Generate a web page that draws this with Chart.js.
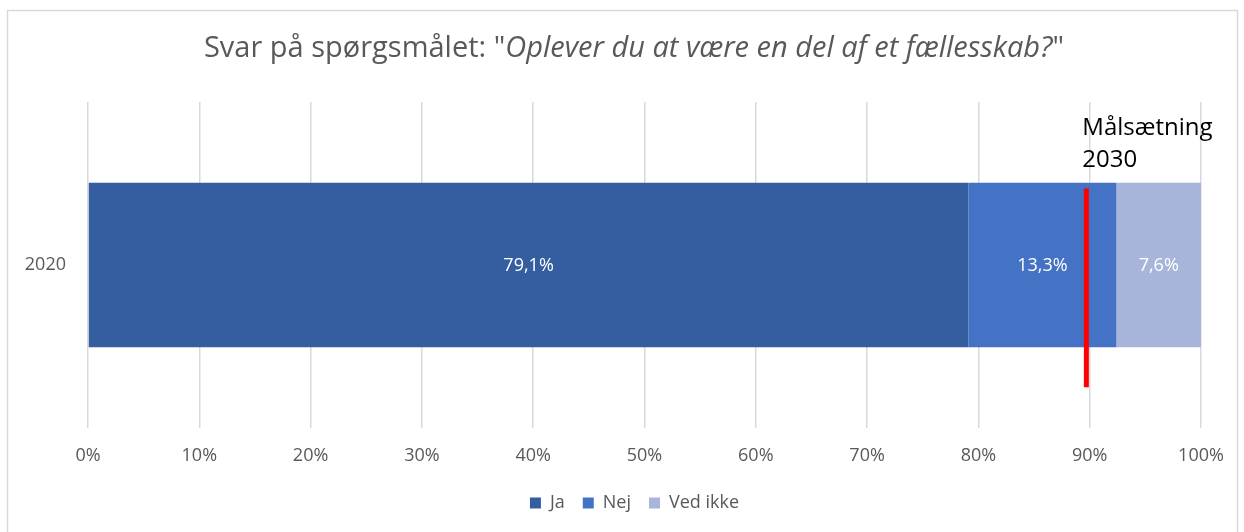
<!DOCTYPE html>
<html>
<head>
<meta charset="utf-8">
<script src="https://cdn.jsdelivr.net/npm/chart.js@4"></script>
<style>
  html, body { margin: 0; padding: 0; background: #fff; }
  #wrap { width: 1244px; height: 532px; }
</style>
</head>
<body>
<div id="wrap"><canvas id="chart" width="1244" height="532"></canvas></div>
<script>
// data
const years = ['2020'];
const seriesNames = ['Ja', 'Nej', 'Ved ikke'];
const ja = [79.1];
const nej = [13.3];
const vedIkke = [7.6];
const target = [89.7];
const targetLabel = ['Målsætning', '2030'];
const xTicks = [0, 10, 20, 30, 40, 50, 60, 70, 80, 90, 100];

const colors = ['#355EA1', '#4472C4', '#A7B5DA'];
const font = '"Open Sans", "Liberation Sans", sans-serif';
const grey = '#595959';

// title with the italic question in the middle
const titlePlugin = {
  id: 'title2',
  afterLayout(chart) {
    // centre the legend on the whole frame, not on the padded area
    chart.legend.left += 24;
    chart.legend.right += 24;
  },
  afterDraw(chart) {
    const c = chart.ctx;
    c.save();
    // outer frame
    c.strokeStyle = '#d9d9d9';
    c.lineWidth = 1.5;
    c.strokeRect(7.5, 10.5, 1230, 530);

    const parts = [
      { t: 'Svar på spørgsmålet: "', f: '29px ' + font },
      { t: 'Oplever du at være en del af et fællesskab?', f: 'italic 29px ' + font },
      { t: '"', f: '29px ' + font }
    ];
    let w = 0;
    parts.forEach(p => { c.font = p.f; w += c.measureText(p.t).width; });
    let x = 634 - w / 2;
    c.fillStyle = grey;
    c.textBaseline = 'middle';
    c.textAlign = 'left';
    parts.forEach(p => { c.font = p.f; c.fillText(p.t, x, 49); x += c.measureText(p.t).width; });
    c.restore();
  }
};

// white value labels inside the segments
const valueLabels = {
  id: 'valueLabels',
  afterDatasetsDraw(chart) {
    const c = chart.ctx;
    c.save();
    c.font = '18px ' + font;
    c.fillStyle = '#ffffff';
    c.textAlign = 'center';
    c.textBaseline = 'middle';
    chart.data.datasets.forEach((ds, i) => {
      chart.getDatasetMeta(i).data.forEach((bar, j) => {
        const v = ds.data[j];
        const cx = (bar.x + bar.base) / 2;
        c.fillText(v.toFixed(1).replace('.', ',') + '%', cx, bar.y + 1);
      });
    });
    c.restore();
  }
};

// red 2030 target line with its label
const targetLine = {
  id: 'targetLine',
  afterDatasetsDraw(chart) {
    const c = chart.ctx;
    const xs = chart.scales.x, ys = chart.scales.y;
    const band = ys.getPixelForValue(0.5) - ys.getPixelForValue(-0.5);
    const mid = ys.getPixelForValue(0);
    target.forEach(t => {
      const px = xs.getPixelForValue(t);
      c.save();
      c.fillStyle = '#ff0000';
      c.fillRect(px - 2.5, mid - 0.235 * band, 5, 0.61 * band);
      c.fillStyle = '#000000';
      c.font = '24px ' + font;
      c.textAlign = 'left';
      c.textBaseline = 'middle';
      c.fillText(targetLabel[0], px - 4, 128);
      c.fillText(targetLabel[1], px - 4, 160);
      c.restore();
    });
  }
};

new Chart(document.getElementById('chart'), {
  type: 'bar',
  data: {
    labels: years,
    datasets: [
      { label: seriesNames[0], data: ja, backgroundColor: colors[0] },
      { label: seriesNames[1], data: nej, backgroundColor: colors[1] },
      { label: seriesNames[2], data: vedIkke, backgroundColor: colors[2] }
    ]
  },
  options: {
    indexAxis: 'y',
    responsive: false,
    animation: false,
    barPercentage: 0.505,
    categoryPercentage: 1,
    layout: { padding: { left: 20, right: 43, top: 102, bottom: 10 } },
    scales: {
      x: {
        stacked: true,
        min: 0,
        max: 100,
        afterBuildTicks(axis) { axis.ticks = xTicks.map(v => ({ value: v })); },
        afterFit(axis) { axis.height = 48; },
        grid: { color: '#d9d9d9', lineWidth: 1.5, drawTicks: false },
        border: { display: false },
        ticks: {
          padding: 17,
          color: grey,
          font: { family: font, size: 18 },
          callback: v => v + '%'
        }
      },
      y: {
        stacked: true,
        afterFit(axis) { axis.width = 68; },
        grid: { display: false },
        border: { display: false },
        ticks: { padding: 14, color: grey, font: { family: font, size: 18 } }
      }
    },
    plugins: {
      title: { display: false },
      tooltip: { enabled: false },
      legend: {
        position: 'bottom',
        labels: {
          boxWidth: 11,
          boxHeight: 11,
          padding: 18,
          color: grey,
          font: { family: font, size: 18 }
        }
      }
    }
  },
  plugins: [titlePlugin, valueLabels, targetLine]
});
</script>
</body>
</html>
